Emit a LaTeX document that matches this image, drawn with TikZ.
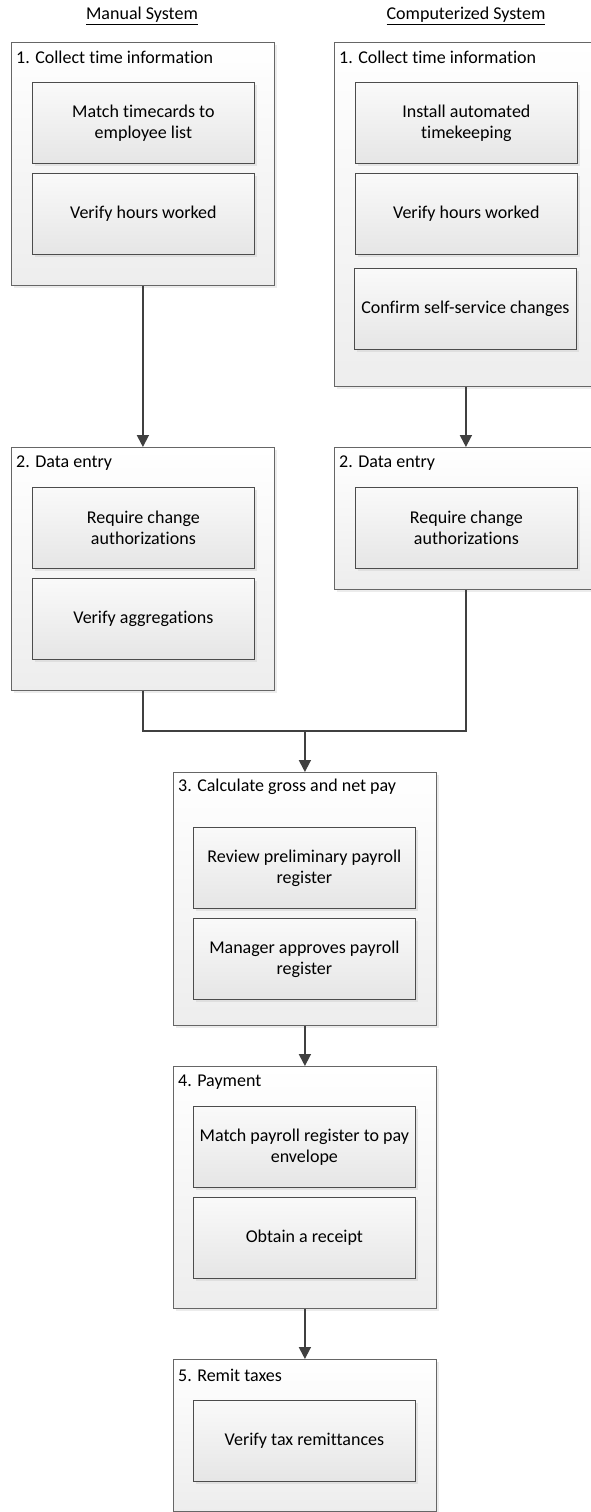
\documentclass[tikz,border=0pt]{standalone}
\usepackage{fontspec}
\setmainfont{Carlito}[Ligatures={NoCommon,NoContextual}]
\usetikzlibrary{calc, shadows, arrows.meta}

\begin{document}
\begin{tikzpicture}[x=1pt, y=-1pt,
    font=\fontsize{18}{21}\selectfont,
    stage/.style={draw=black!60, line width=0.8pt, top color=white, bottom color=black!7,
      drop shadow={shadow xshift=3pt, shadow yshift=-3pt, fill=black!15},
      anchor=north west, inner sep=0pt, minimum width=263pt},
    task/.style={draw=black!70, line width=0.8pt, top color=black!2, bottom color=black!10,
      drop shadow={shadow xshift=3pt, shadow yshift=-3pt, fill=black!18},
      anchor=north west, align=center, inner sep=0pt,
      minimum width=222pt, minimum height=81pt},
    title/.style={anchor=west, inner sep=0pt},
    flow/.style={draw=black!75, line width=1.8pt},
    >={Triangle[length=12pt, width=12pt]}]
  \useasboundingbox (0,0) rectangle (591,1512);

  % column headings
  \node (hman) at (142,16) {\underline{Manual System}};
  \node (hcomp) at (466,16) {\underline{Computerized System}};

  % manual system
  \node[stage, minimum height=243pt] (m1) at (11,42) {};
  \node[title] at ($(m1.north west)+(5,15)$) {1. Collect time information};
  \node[task] (m1a) at (32,82) {Match timecards to\\employee list};
  \node[task] (m1b) at (32,173) {Verify hours worked};

  \node[stage, minimum height=243pt] (m2) at (11,447) {};
  \node[title] at ($(m2.north west)+(5,16)$) {2. Data entry};
  \node[task] (m2a) at (32,487) {Require change\\authorizations};
  \node[task] (m2b) at (32,578) {Verify aggregations};

  % computerized system
  \node[stage, minimum height=344pt] (c1) at (334,42) {};
  \node[title] at ($(c1.north west)+(5,15)$) {1. Collect time information};
  \node[task] (c1a) at (355,82) {Install automated\\timekeeping};
  \node[task] (c1b) at (355,173) {Verify hours worked};
  \node[task] (c1c) at (354,268) {Confirm self-service changes};

  \node[stage, minimum height=142pt] (c2) at (334,447) {};
  \node[title] at ($(c2.north west)+(5,16)$) {2. Data entry};
  \node[task] (c2a) at (355,487) {Require change\\authorizations};

  % common steps
  \node[stage, minimum height=253pt] (s3) at (173,772) {};
  \node[title] at ($(s3.north west)+(5,15)$) {3. Calculate gross and net pay};
  \node[task] (s3a) at (193,827) {Review preliminary payroll\\register};
  \node[task] (s3b) at (193,918) {Manager approves payroll\\register};

  \node[stage, minimum height=242pt] (s4) at (173,1066) {};
  \node[title] at ($(s4.north west)+(5,16)$) {4. Payment};
  \node[task] (s4a) at (193,1106) {Match payroll register to pay\\envelope};
  \node[task] (s4b) at (193,1197) {Obtain a receipt};

  \node[stage, minimum height=152pt] (s5) at (173,1359) {};
  \node[title] at ($(s5.north west)+(5,16)$) {5. Remit taxes};
  \node[task] (s5a) at (193,1400) {Verify tax remittances};

  % connectors
  \coordinate (join) at (s3.north |- 0,731);
  \draw[flow, ->] (m1.south) -- (m2.north);
  \draw[flow, ->] (c1.south) -- (c2.north);
  \draw[flow] (m2.south) |- (join) -| (c2.south);
  \draw[flow, ->] (join) -- (s3.north);
  \draw[flow, ->] (s3.south) -- (s4.north);
  \draw[flow, ->] (s4.south) -- (s5.north);
\end{tikzpicture}
\end{document}
